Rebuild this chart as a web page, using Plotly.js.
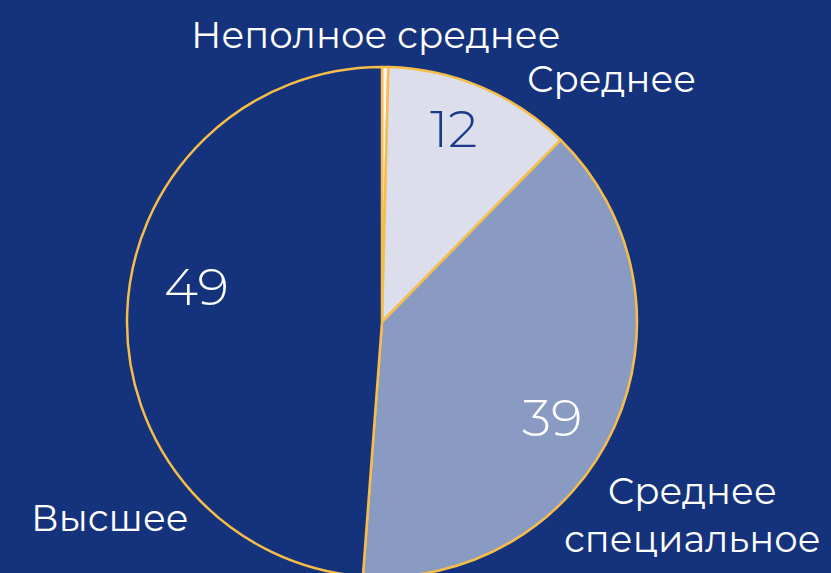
<!DOCTYPE html>
<html>
<head>
<meta charset="utf-8">
<script src="https://cdn.plot.ly/plotly-3.0.1.min.js"></script>
<style>
  html, body { margin: 0; padding: 0; overflow: hidden; background: #15327c; }
</style>
</head>
<body>
<div id="plot"></div>
<script>
// Уровень образования, %
var categories = ['Неполное среднее', 'Среднее', 'Среднее специальное', 'Высшее'];
var values = [0.4, 12, 39, 49];
var valueLabels = ['', '12', '39', '49'];
var sliceColors = ['#f4f4f6', '#dcdfeb', '#8a9bc3', '#15327c'];
var valueColors = ['#ffffff', '#1b3a8c', '#ffffff', '#ffffff'];

var FONT = 'Montserrat, "DejaVu Sans", sans-serif';

// pixel -> paper helpers (plot area is 127..637 x 67..577)
var L = 127, T = 67, S = 510, H = 577;
function px(x) { return (x - L) / S; }
function py(y) { return (H - y) / S; }

var data = [{
  type: 'pie',
  values: values,
  labels: categories,
  sort: false,
  direction: 'clockwise',
  rotation: 0,
  textinfo: 'none',
  hoverinfo: 'label+value',
  marker: {
    colors: sliceColors,
    line: { color: '#f6bd48', width: 2.5 }
  },
  showlegend: false
}];

// label spots [x, y] in pixels
var catSpots = [[376, 34], [611, 78], [692, 514], [110, 517]];
var valSpots = [[0, 0], [454, 128], [552, 417], [196, 286]];

var annotations = [];
categories.forEach(function (c, i) {
  annotations.push({
    text: c === 'Среднее специальное' ? 'Среднее<br>специальное' : c,
    x: px(catSpots[i][0]), y: py(catSpots[i][1]),
    xref: 'paper', yref: 'paper', showarrow: false,
    xanchor: 'center', yanchor: 'middle',
    font: { family: FONT, size: 37, color: '#ffffff' }
  });
  if (valueLabels[i]) {
    annotations.push({
      text: valueLabels[i],
      x: px(valSpots[i][0]), y: py(valSpots[i][1]),
      xref: 'paper', yref: 'paper', showarrow: false,
      xanchor: 'center', yanchor: 'middle',
      font: { family: FONT, size: 52, color: valueColors[i], weight: 300 }
    });
  }
});

var layout = {
  width: 831,
  height: H,
  margin: { l: L, r: 831 - L - S, t: T, b: 0 },
  paper_bgcolor: '#15327c',
  plot_bgcolor: '#15327c',
  annotations: annotations
};

Plotly.newPlot('plot', data, layout, { displayModeBar: false });
</script>
</body>
</html>
